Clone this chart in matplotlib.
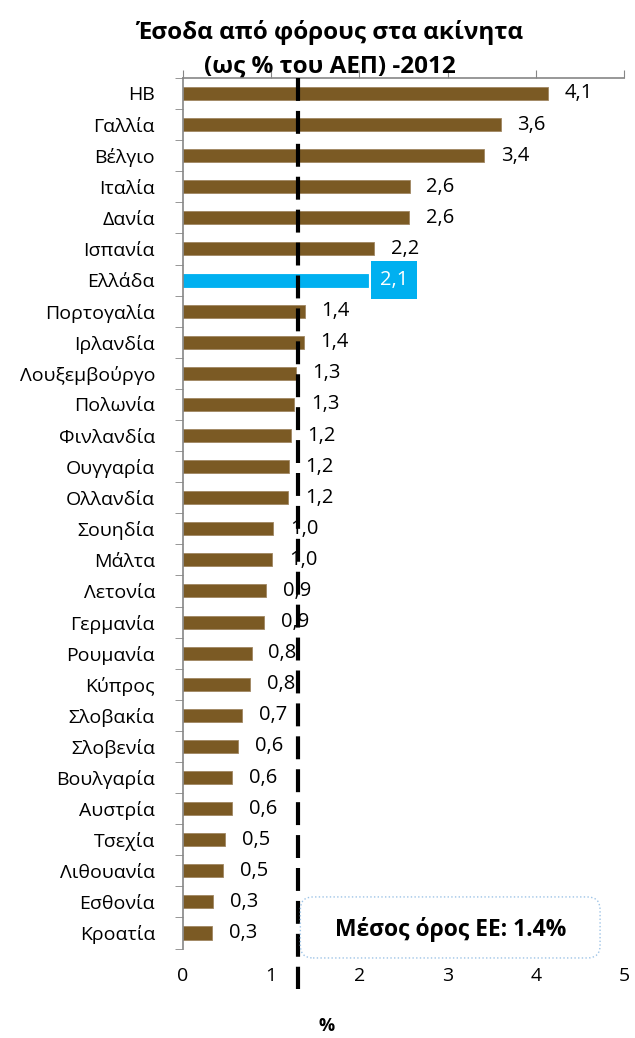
import numpy as np
import matplotlib
matplotlib.use('Agg')
import matplotlib.pyplot as plt
from matplotlib.patches import FancyBboxPatch

plt.rcParams['font.family'] = ['Open Sans', 'DejaVu Sans']

# countries top to bottom (% of GDP)
countries = ['ΗΒ', 'Γαλλία', 'Βέλγιο', 'Ιταλία', 'Δανία', 'Ισπανία', 'Ελλάδα',
             'Πορτογαλία', 'Ιρλανδία', 'Λουξεμβούργο', 'Πολωνία', 'Φινλανδία',
             'Ουγγαρία', 'Ολλανδία', 'Σουηδία', 'Μάλτα', 'Λετονία', 'Γερμανία',
             'Ρουμανία', 'Κύπρος', 'Σλοβακία', 'Σλοβενία', 'Βουλγαρία', 'Αυστρία',
             'Τσεχία', 'Λιθουανία', 'Εσθονία', 'Κροατία']
values = [4.14, 3.60, 3.41, 2.57, 2.56, 2.17, 2.10,
          1.38, 1.37, 1.28, 1.26, 1.22,
          1.20, 1.19, 1.02, 1.01, 0.94, 0.92,
          0.78, 0.76, 0.67, 0.63, 0.56, 0.56,
          0.48, 0.46, 0.34, 0.33]
highlight = 'Ελλάδα'
eu_line = 1.3
xticks = [0, 1, 2, 3, 4, 5]

brown = '#7B5A24'
blue = '#00B0F0'
grey = '#868686'

fig = plt.figure(figsize=(6.35, 10.38), dpi=100)
ax = fig.add_axes([0.288, 0.0862, 0.695, 0.8387])

y = np.arange(len(countries))
colors = [blue if c == highlight else brown for c in countries]
edges = [blue if c == highlight else '#A08662' for c in countries]
ax.barh(y, values, height=0.42, color=colors, edgecolor=edges, linewidth=0.6, zorder=2)
ax.set_ylim(len(countries) - 0.5, -0.5)
ax.set_xlim(0, 5)

# value labels
for i, (c, v) in enumerate(zip(countries, values)):
    txt = ('%.1f' % v).replace('.', ',')
    if c == highlight:
        ax.text(v + 0.13, i, txt, va='center', ha='left', fontsize=14.5, color='white',
                bbox=dict(boxstyle='square,pad=0.45', fc=blue, ec='none'), zorder=3)
    else:
        ax.text(v + 0.19, i, txt, va='center', ha='left', fontsize=14.5, zorder=3)

# category axis
ax.set_yticks(y)
ax.set_yticklabels(countries, fontsize=14)
ax.set_yticks(np.arange(len(countries) + 1) - 0.5, minor=True)
ax.tick_params(axis='y', which='major', length=0, pad=20)
ax.tick_params(axis='y', which='minor', length=6, color=grey, direction='out')

# value axis: line and ticks on top, labels at bottom
ax.xaxis.set_ticks_position('top')
ax.set_xticks(xticks)
ax.tick_params(axis='x', length=6, color=grey, labeltop=False, labelbottom=False)
for t in xticks:
    ax.text(t, -0.032, str(t), transform=ax.get_xaxis_transform(),
            ha='center', va='center', fontsize=14)

for s in ['right', 'bottom']:
    ax.spines[s].set_visible(False)
for s in ['left', 'top']:
    ax.spines[s].set_color(grey)
    ax.spines[s].set_linewidth(1.2)

# EU average dashed line
ax.plot([eu_line, eu_line], [1.0, -0.046], transform=ax.get_xaxis_transform(),
        color='black', lw=3.0, ls=(0, (5.5, 2.4)), clip_on=False, zorder=5)

# average box (figure coordinates)
box = FancyBboxPatch((0.473, 0.0771), 0.472, 0.0588,
                     boxstyle='round,pad=0,rounding_size=0.02',
                     mutation_aspect=635 / 1038, transform=fig.transFigure,
                     fc='white', ec='#9DC3E6', lw=1, ls=':', zorder=4)
fig.patches.append(box)
fig.text(0.709, 0.1045, 'Μέσος όρος ΕΕ: 1.4%', ha='center', va='center',
         fontsize=16.5, fontweight='bold', zorder=6)

fig.text(0.52, 0.969, 'Έσοδα από φόρους στα ακίνητα', ha='center', va='center',
         fontsize=17.5, fontweight='bold')
fig.text(0.52, 0.936, '(ως % του ΑΕΠ) -2012', ha='center', va='center',
         fontsize=17.5, fontweight='bold')
fig.text(0.515, 0.012, '%', ha='center', va='center', fontsize=13, fontweight='bold')

fig.savefig('out.png', dpi=100)
